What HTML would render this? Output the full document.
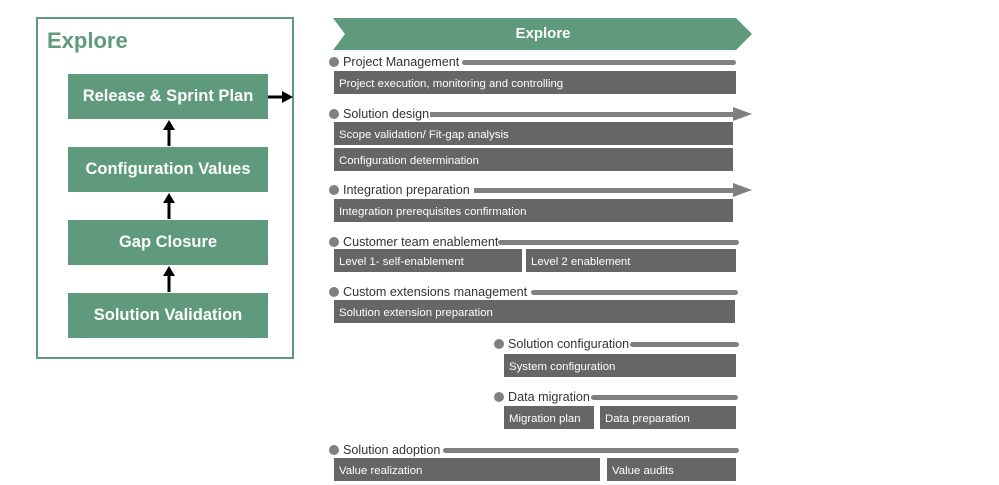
<!DOCTYPE html>
<html><head><style>
body{margin:0;width:999px;height:485px;background:#fff;position:relative;font-family:"Liberation Sans",sans-serif;overflow:hidden}
.a{position:absolute}
.g{background:#5e9a7b;color:#fff;font-weight:bold;font-size:16.5px;display:flex;align-items:center;justify-content:center}
.d{position:absolute;background:#666;color:#fff;font-size:11.4px;height:23px;line-height:23px;padding-left:5px;padding-top:2px;box-sizing:border-box}
.l{position:absolute;font-size:12.6px;color:#333;white-space:nowrap;line-height:14px}
.c{position:absolute;width:10px;height:10px;border-radius:50%;background:#808080}
.b{position:absolute;height:5px;background:#808080;border-radius:3px}
</style></head><body>
<div class="a" style="left:36px;top:17px;width:254px;height:338px;border:2px solid #5e9a7b"></div>
<div class="a" style="left:47px;top:28px;font-size:22px;font-weight:bold;color:#5e9a7b">Explore</div>
<div class="a g" style="left:68px;top:74px;width:200px;height:45px">Release &amp; Sprint Plan</div>
<div class="a g" style="left:68px;top:147px;width:200px;height:45px">Configuration Values</div>
<div class="a g" style="left:68px;top:220px;width:200px;height:45px">Gap Closure</div>
<div class="a g" style="left:68px;top:293px;width:200px;height:45px">Solution Validation</div>
<svg class="a" style="left:0;top:0" width="999" height="485">
<g stroke="#000" stroke-width="3" fill="#000">
<line x1="169" y1="146" x2="169" y2="128"/><polygon points="163,130 175,130 169,120" stroke="none"/>
<line x1="169" y1="219" x2="169" y2="201"/><polygon points="163,203 175,203 169,193" stroke="none"/>
<line x1="169" y1="292" x2="169" y2="274"/><polygon points="163,276 175,276 169,266" stroke="none"/>
<line x1="268" y1="97" x2="284" y2="97"/><polygon points="282,91 282,103 293,97" stroke="none"/>
</g>
<polygon points="333,18 736,18 752,34 736,50 333,50 345,34" fill="#5e9a7b"/>
<polygon points="733,107 752,114 733,121" fill="#808080"/>
<polygon points="733,183 752,190 733,197" fill="#808080"/>
</svg>
<div class="a" style="left:333px;top:25px;width:420px;text-align:center;color:#fff;font-weight:bold;font-size:15px">Explore</div>

<div class="c" style="left:329px;top:57px"></div><div class="l" style="left:343px;top:55px">Project Management</div><div class="b" style="left:462px;top:60px;width:274px"></div>
<div class="d" style="left:334px;top:71px;width:402px">Project execution, monitoring and controlling</div>

<div class="c" style="left:329px;top:109px"></div><div class="l" style="left:343px;top:107px">Solution design</div><div class="b" style="left:430px;top:112px;width:305px;border-radius:0"></div>
<div class="d" style="left:334px;top:122px;width:399px">Scope validation/ Fit-gap analysis</div>
<div class="d" style="left:334px;top:148px;width:399px">Configuration determination</div>

<div class="c" style="left:329px;top:185px"></div><div class="l" style="left:343px;top:183px">Integration preparation</div><div class="b" style="left:474px;top:188px;width:261px;border-radius:0"></div>
<div class="d" style="left:334px;top:199px;width:399px">Integration prerequisites confirmation</div>

<div class="c" style="left:329px;top:237px"></div><div class="l" style="left:343px;top:235px">Customer team enablement</div><div class="b" style="left:498px;top:240px;width:241px"></div>
<div class="d" style="left:334px;top:249px;width:188px">Level 1- self-enablement</div>
<div class="d" style="left:526px;top:249px;width:210px">Level 2 enablement</div>

<div class="c" style="left:329px;top:287px"></div><div class="l" style="left:343px;top:285px">Custom extensions management</div><div class="b" style="left:531px;top:290px;width:207px"></div>
<div class="d" style="left:334px;top:300px;width:401px">Solution extension preparation</div>

<div class="c" style="left:494px;top:339px"></div><div class="l" style="left:508px;top:337px">Solution configuration</div><div class="b" style="left:630px;top:342px;width:109px"></div>
<div class="d" style="left:504px;top:354px;width:232px">System configuration</div>

<div class="c" style="left:494px;top:392px"></div><div class="l" style="left:508px;top:390px">Data migration</div><div class="b" style="left:591px;top:395px;width:147px"></div>
<div class="d" style="left:504px;top:406px;width:90px">Migration plan</div>
<div class="d" style="left:600px;top:406px;width:136px">Data preparation</div>

<div class="c" style="left:329px;top:445px"></div><div class="l" style="left:343px;top:443px">Solution adoption</div><div class="b" style="left:443px;top:448px;width:296px"></div>
<div class="d" style="left:334px;top:458px;width:266px">Value realization</div>
<div class="d" style="left:607px;top:458px;width:129px">Value audits</div>
</body></html>
